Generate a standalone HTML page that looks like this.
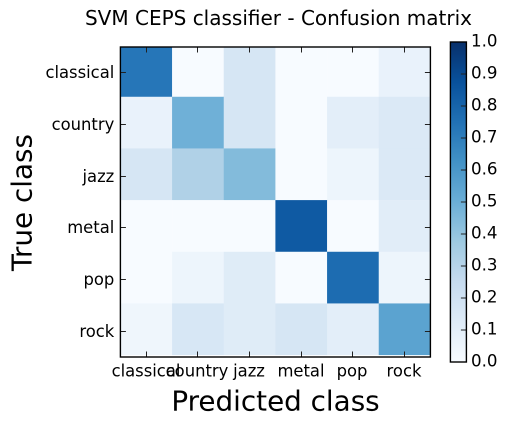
<!DOCTYPE html>
<html>
<head>
<meta charset="utf-8">
<style>
html,body{margin:0;padding:0;background:#fff;}
svg{display:block;}
text{font-family:"DejaVu Sans","Liberation Sans",sans-serif;fill:#000;}
</style>
</head>
<body>
<svg id="chart" width="507" height="425" viewBox="0 0 507 425" xmlns="http://www.w3.org/2000/svg">
<defs><clipPath id="plot-clip"><rect x="120.4" y="47" width="310" height="310"/></clipPath></defs>
<rect width="507" height="425" fill="#fff"/>
<text x="278.5" y="25" font-size="20" text-anchor="middle">SVM CEPS classifier - Confusion matrix</text>
<text x="275.5" y="410.5" font-size="27.8" text-anchor="middle">Predicted class</text>
<text transform="translate(31.5,202.5) rotate(-90)" font-size="27.8" text-anchor="middle">True class</text>
<g id="cells" clip-path="url(#plot-clip)"></g>
<g id="ticks"></g>
<rect x="120.4" y="47" width="310" height="310" fill="none" stroke="#000" stroke-width="1.4"/>
<g id="cbar"></g>
<rect x="450.4" y="42" width="16" height="320" fill="none" stroke="#000" stroke-width="1.4"/>
</svg>
<script>
var categories = ["classical", "country", "jazz", "metal", "pop", "rock"];
var matrix = [
  [0.73, 0.00, 0.165, 0.00, 0.00, 0.07],
  [0.07, 0.49, 0.165, 0.00, 0.10, 0.14],
  [0.165, 0.32, 0.44, 0.00, 0.05, 0.14],
  [0.00, 0.00, 0.00, 0.84, 0.00, 0.11],
  [0.00, 0.05, 0.12, 0.00, 0.77, 0.05],
  [0.04, 0.16, 0.12, 0.165, 0.10, 0.55]
];
var colorbarTicks = ["0.0", "0.1", "0.2", "0.3", "0.4", "0.5", "0.6", "0.7", "0.8", "0.9", "1.0"];
var blues = ["#f7fbff", "#deebf7", "#c6dbef", "#9ecae1", "#6baed6", "#4292c6", "#2171b5", "#08519c", "#08306b"];

var NS = "http://www.w3.org/2000/svg";
var plot = {left: 120.4, top: 47, size: 310};
var bar = {left: 450.4, top: 42, width: 16, height: 320};
var imageShiftY = -1.9;
var cellSize = plot.size / categories.length;

function xScale(i) { return plot.left + i * cellSize; }
function yScale(i) { return plot.top + i * cellSize; }
function barY(v) { return bar.top + (1 - v) * bar.height; }
function hexToRgb(h) {
  return [parseInt(h.substr(1, 2), 16), parseInt(h.substr(3, 2), 16), parseInt(h.substr(5, 2), 16)];
}
function colorFor(v) {
  var t = Math.max(0, Math.min(1, v)) * (blues.length - 1);
  var i = Math.min(Math.floor(t), blues.length - 2);
  var f = t - i;
  var a = hexToRgb(blues[i]);
  var b = hexToRgb(blues[i + 1]);
  return "rgb(" + [0, 1, 2].map(function (k) { return Math.round(a[k] + (b[k] - a[k]) * f); }).join(",") + ")";
}
function make(tag, attrs, parent, content) {
  var el = document.createElementNS(NS, tag);
  for (var k in attrs) { el.setAttribute(k, attrs[k]); }
  if (content !== undefined) { el.textContent = content; }
  parent.appendChild(el);
  return el;
}

var cellsG = document.getElementById("cells");
var ticksG = document.getElementById("ticks");
var cbarG = document.getElementById("cbar");
var tickColor = "#222";

matrix.forEach(function (row, r) {
  row.forEach(function (v, c) {
    var cell = make("rect", {x: xScale(c), y: yScale(r) + imageShiftY, width: cellSize + 0.3, height: r === matrix.length - 1 ? cellSize : cellSize + 0.3, fill: colorFor(v)}, cellsG);
    
    
  });
});

categories.forEach(function (name, i) {
  var cx = Math.floor(xScale(i + 0.5)) + 0.5;
  var cy = Math.floor(yScale(i + 0.5)) + 0.5;
  var segs = [
    [cx, plot.top + plot.size, cx, plot.top + plot.size - 5.5],
    [cx, plot.top, cx, plot.top + 5.5],
    [plot.left, cy, plot.left + 5.5, cy],
    [plot.left + plot.size, cy, plot.left + plot.size - 5.5, cy]
  ];
  segs.forEach(function (s) {
    var tick = make("line", {x1: s[0], y1: s[1], x2: s[2], y2: s[3], stroke: tickColor, "stroke-width": 1}, ticksG);
    
    
  });
  var xl = make("text", {x: cx - 0.5, y: 376.5, "font-size": 16.4, "text-anchor": "middle"}, ticksG, name);
  
  
  var yl = make("text", {x: 114.3, y: cy + 5.5, "font-size": 16.4, "text-anchor": "end"}, ticksG, name);
  
  
});

for (var s = 0; s < bar.height; s++) {
  var seg = make("rect", {x: bar.left, y: bar.top + s, width: bar.width, height: 1.3, fill: colorFor(1 - (s + 0.5) / bar.height)}, cbarG);
  
  
}
colorbarTicks.forEach(function (label) {
  var v = parseFloat(label);
  var y = barY(v);
  var t = make("line", {x1: bar.left + bar.width, y1: y, x2: bar.left + bar.width - 5.5, y2: y, stroke: tickColor, "stroke-width": 1}, cbarG);
  
  
  var l = make("text", {x: 471, y: y + 4.7, "font-size": 16.67}, cbarG, label);
  
  
});
</script>
</body>
</html>
